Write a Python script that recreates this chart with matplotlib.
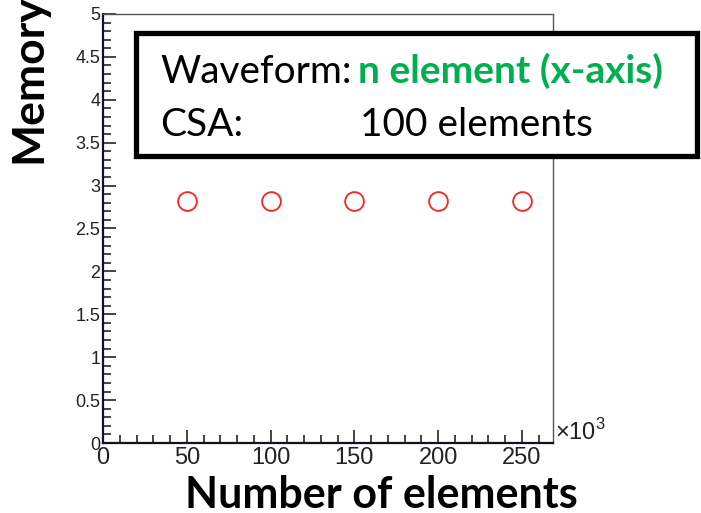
import matplotlib
matplotlib.use("Agg")
import matplotlib.pyplot as plt
from matplotlib.patches import Rectangle
from matplotlib.ticker import MultipleLocator

# data (x in units of 10^3 elements, memory in GB)
n_elements = [50, 100, 150, 200, 250]
memory = [2.82, 2.82, 2.82, 2.82, 2.82]

W, H = 701, 513


def fx(x):
    return x / W


def fy(y):
    return 1 - y / H


plt.rcParams["font.family"] = ["Liberation Sans", "DejaVu Sans"]
plt.rcParams["mathtext.fontset"] = "custom"
plt.rcParams["mathtext.rm"] = "Liberation Sans"

fig = plt.figure(figsize=(W / 100, H / 100), dpi=100)
ax = fig.add_axes([fx(103), fy(443), fx(553) - fx(103), fy(14) - fy(443)])

ax.plot(n_elements, memory, linestyle="none", marker="o", markersize=13.5,
        markerfacecolor="none", markeredgecolor="#ff2020", markeredgewidth=1.3)

ax.set_xlim(0, 268.5)
ax.set_ylim(0, 5)
ax.xaxis.set_major_locator(MultipleLocator(50))
ax.xaxis.set_minor_locator(MultipleLocator(10))
ax.yaxis.set_major_locator(MultipleLocator(0.5))
ax.yaxis.set_minor_locator(MultipleLocator(0.1))
ax.yaxis.set_major_formatter(matplotlib.ticker.FuncFormatter(lambda v, p: f"{v:g}"))

ax.tick_params(which="both", direction="in", top=False, right=False,
               colors="#111111", width=1.1)
ax.tick_params(which="major", length=9.5)
ax.tick_params(which="minor", length=5.5)
ax.tick_params(axis="x", pad=3, labelsize=17, labelcolor="#222222")
ax.tick_params(axis="y", pad=2, labelsize=13, labelcolor="#222222")

for s in ["left", "bottom"]:
    ax.spines[s].set_linewidth(1.6)
    ax.spines[s].set_color("#111122")
for s in ["top", "right"]:
    ax.spines[s].set_linewidth(1.0)
    ax.spines[s].set_color("#555555")

fig.text(fx(555), fy(432), r"$\times10^{3}$", fontsize=17, color="#222222",
         ha="left", va="center")

# axis titles
fig.text(fx(381), fy(508), "Number of elements", family="Lato", weight="bold",
         fontsize=31, ha="center", va="baseline")
fig.text(fx(48), fy(163), "Memory", family="Lato", weight="bold",
         fontsize=32, rotation=90, ha="right", va="bottom")

# annotation box
fig.add_artist(Rectangle((fx(135.5), fy(155.5)), fx(697.5) - fx(135.5),
                         fy(32.5) - fy(155.5), transform=fig.transFigure,
                         facecolor="white", edgecolor="black", linewidth=3.8,
                         zorder=5))
fig.text(fx(160), fy(83), "Waveform:", family="Lato", fontsize=28,
         ha="left", va="baseline", zorder=6)
fig.text(fx(358), fy(83), "n element (x-axis)", family="Lato", weight="bold",
         fontsize=28, color="#00b050", ha="left", va="baseline", zorder=6)
fig.text(fx(160), fy(136), "CSA:", family="Lato", fontsize=28,
         ha="left", va="baseline", zorder=6)
fig.text(fx(360), fy(136), "100 elements", family="Lato", fontsize=28,
         ha="left", va="baseline", zorder=6)

fig.savefig("out.png", dpi=100)
